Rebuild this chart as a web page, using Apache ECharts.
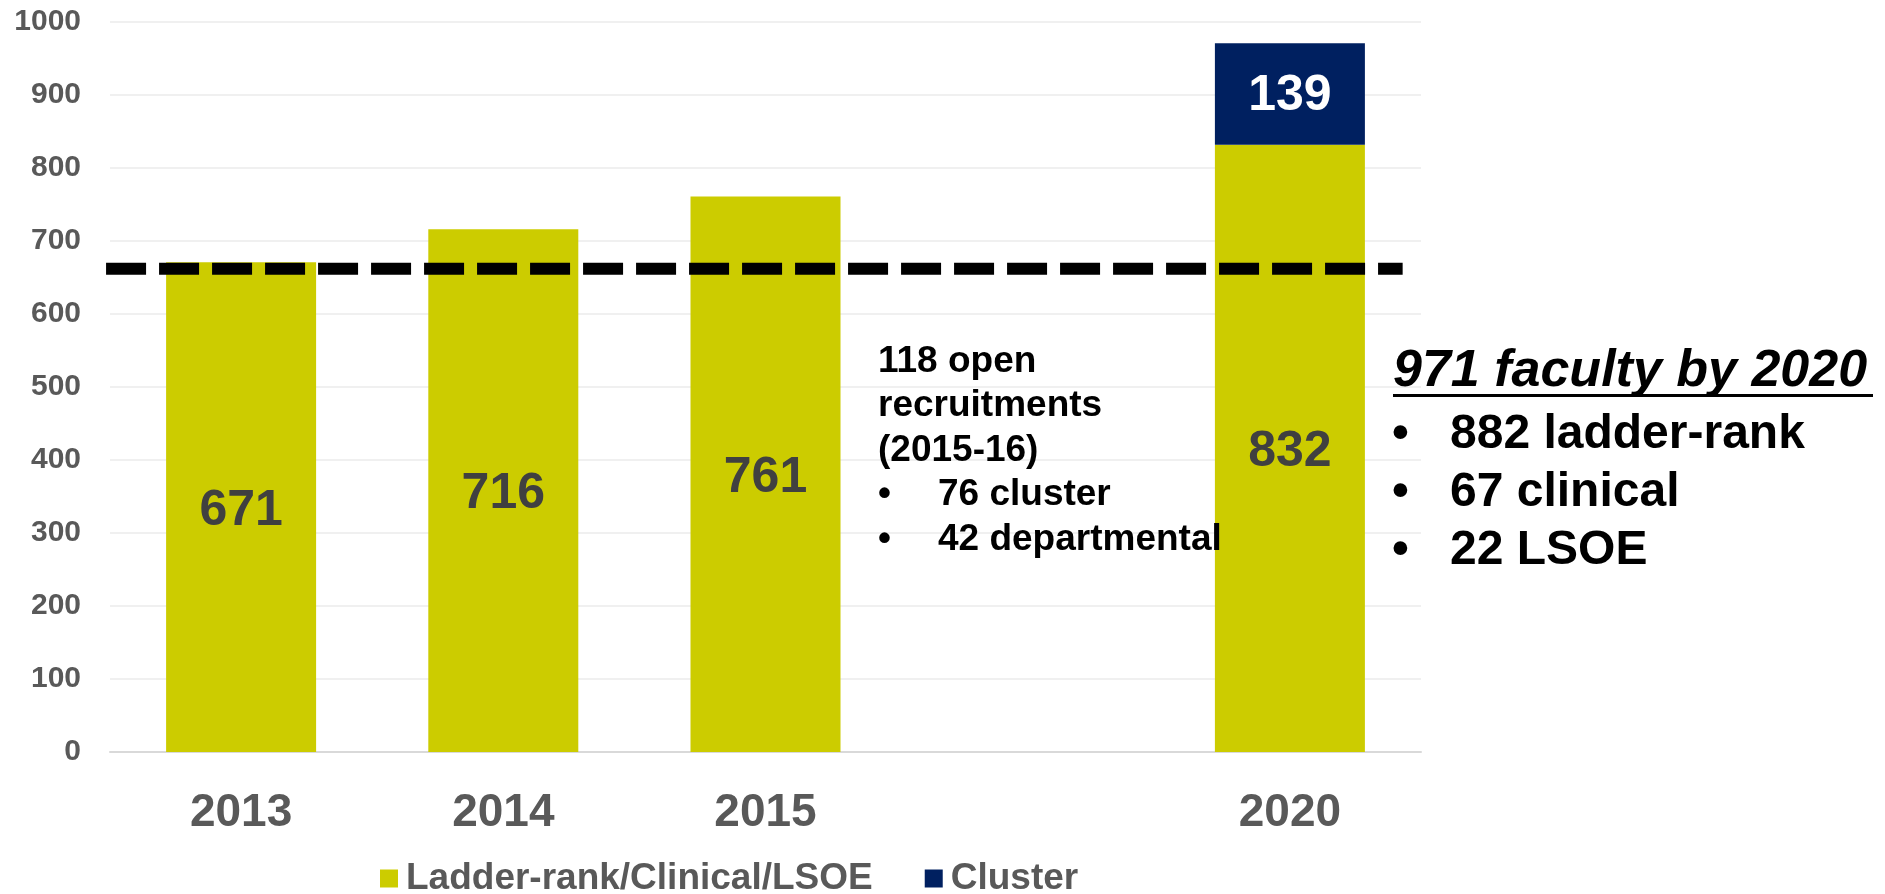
<!DOCTYPE html>
<html>
<head>
<meta charset="utf-8">
<title>Faculty growth</title>
<script src="https://cdn.jsdelivr.net/npm/echarts@6/dist/echarts.min.js"></script>
<style>
  html, body { margin: 0; padding: 0; background: #fff; }
  #main { width: 1885px; height: 894px; }
</style>
</head>
<body>
<div id="main"></div>
<script>
// data
var years = ['2013', '2014', '2015', '', '2020'];
var ladderRank = [671, 716, 761, null, 832];
var cluster = [null, null, null, null, 139];
var yTicks = [0, 100, 200, 300, 400, 500, 600, 700, 800, 900, 1000];
var baseline2013 = 662;          // dashed reference line
var baselineSpan = [-0.515, 4.43]; // in category units, where the dashed line starts / stops

var noteMiddle = ['118 open', 'recruitments', '(2015-16)'];
var noteMiddleBullets = ['76 cluster', '42 departmental'];
var noteRightTitle = '971 faculty by 2020';
var noteRightBullets = ['882 ladder-rank', '67 clinical', '22 LSOE'];

(function(){
    var font = '"Liberation Sans", Arial, Helvetica, sans-serif';
    var gray = '#595959';
    var mychart = echarts.init(document.getElementById('main'));

    // annotation texts
    var graphics = [];
    noteMiddle.forEach(function(t, i){
        graphics.push({ type: 'text', left: 878, top: 343 + i * 44.5, z: 100,
            style: { text: t, font: 'bold 37px ' + font, fill: '#000' } });
    });
    noteMiddleBullets.forEach(function(t, i){
        var y = 343 + (i + 3) * 44.5;
        graphics.push({ type: 'text', left: 878, top: y, z: 100,
            style: { text: '•', font: 'bold 37px ' + font, fill: '#000' } });
        graphics.push({ type: 'text', left: 938, top: y, z: 100,
            style: { text: t, font: 'bold 37px ' + font, fill: '#000' } });
    });
    graphics.push({ type: 'text', left: 1393, top: 346, z: 100,
        style: { text: noteRightTitle, font: 'italic bold 52px ' + font, fill: '#000' } });
    graphics.push({ type: 'rect', z: 100, shape: { x: 1393, y: 394, width: 480, height: 3 },
        style: { fill: '#000' } });
    noteRightBullets.forEach(function(t, i){
        var y = 411 + i * 58;
        graphics.push({ type: 'text', left: 1392, top: y, z: 100,
            style: { text: '•', font: 'bold 48px ' + font, fill: '#000' } });
        graphics.push({ type: 'text', left: 1450, top: y, z: 100,
            style: { text: t, font: 'bold 48px ' + font, fill: '#000' } });
    });

    var option = {
        animation: false,
        textStyle: { fontFamily: font },
        grid: { left: 110, right: 464, top: 22, bottom: 142 },
        legend: {
            top: 855,
            left: 375,
            itemWidth: 18,
            itemHeight: 18,
            itemGap: 52,
            icon: 'rect',
            textStyle: { fontSize: 37, fontWeight: 'bold', color: gray, padding: [0, 0, 0, 3] },
            data: ['Ladder-rank/Clinical/LSOE', 'Cluster']
        },
        xAxis: [
            {
                type: 'category',
                data: years,
                axisTick: { show: false },
                axisLine: { lineStyle: { color: '#d9d9d9', width: 2 } },
                axisLabel: { margin: 38, fontSize: 46, fontWeight: 'bold', color: gray }
            },
            {
                // hidden helper axis in category units for the dashed line
                type: 'value',
                min: -0.5,
                max: years.length - 0.5,
                show: false
            }
        ],
        yAxis: {
            type: 'value',
            min: yTicks[0],
            max: yTicks[yTicks.length - 1],
            interval: 100,
            axisLine: { show: false },
            axisTick: { show: false },
            splitLine: { lineStyle: { color: '#f0f0f0', width: 2 } },
            axisLabel: {
                margin: 29, fontSize: 30, fontWeight: 'bold', color: gray,
                formatter: function(v){ return String(v); }
            }
        },
        series: [
            {
                name: 'Ladder-rank/Clinical/LSOE',
                type: 'bar',
                stack: 'total',
                barWidth: 150,
                data: ladderRank,
                itemStyle: { color: '#cccc00' },
                label: { show: true, position: 'inside', offset: [0, 4], fontSize: 50, fontWeight: 'bold', color: '#404040' }
            },
            {
                name: 'Cluster',
                type: 'bar',
                stack: 'total',
                barWidth: 150,
                data: cluster,
                itemStyle: { color: '#002060' },
                label: { show: true, position: 'inside', offset: [0, 2], fontSize: 50, fontWeight: 'bold', color: '#fff' }
            },
            {
                name: 'baseline',
                type: 'line',
                xAxisIndex: 1,
                symbol: 'none',
                silent: true,
                z: 10,
                lineStyle: { color: '#000', width: 12, type: [40, 13], cap: 'butt' },
                data: [[baselineSpan[0], baseline2013], [baselineSpan[1], baseline2013]]
            }
        ],
        graphic: graphics
    };
    mychart.setOption(option);
})();
</script>
</body>
</html>
